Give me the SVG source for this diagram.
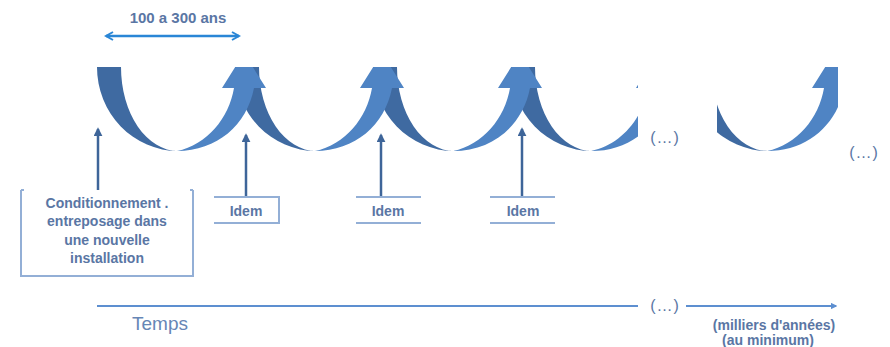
<svg xmlns="http://www.w3.org/2000/svg" width="890" height="347" viewBox="0 0 890 347">
<style>
.t{font-family:"Liberation Sans",Arial,sans-serif;fill:#5a76a4;font-weight:bold;text-anchor:middle}
.dark{fill:#3f6aa1}
.light{fill:#4f84c4}
.box{fill:none;stroke:#93afd6;stroke-width:2}
.up{stroke:#3e6599;stroke-width:2.5;fill:none}
.tl{stroke:#5d8fd0;stroke-width:2.2;fill:none}
.dots{font-weight:normal;letter-spacing:1px}
</style>
<defs>
<marker id="chev" viewBox="0 0 10 10" refX="8" refY="5" markerWidth="4" markerHeight="4" orient="auto-start-reverse" markerUnits="strokeWidth">
<path d="M1,1 L8,5 L1,9" fill="none" stroke="#2a86d6" stroke-width="2"/>
</marker>
<marker id="tri" viewBox="0 0 10 10" refX="8" refY="5" markerWidth="3.6" markerHeight="3.6" orient="auto" markerUnits="strokeWidth">
<path d="M0,0 L10,5 L0,10 Z" fill="#3e6599"/>
</marker>
<marker id="tri2" viewBox="0 0 10 10" refX="8" refY="5" markerWidth="3" markerHeight="3" orient="auto" markerUnits="strokeWidth">
<path d="M0,0 L10,5 L0,10 Z" fill="#5d8fd0"/>
</marker>
<path id="dk" class="dark" d="M0,67 A81,84 0 0 0 81,151 A57,84 0 0 1 24,67 Z"/>
<path id="lt" class="light" d="M80,151 C120,151 150,125 157,88 L169,88 L147,53 L125,88 L137,88 C132,118 110,145 80,151 Z"/>
<clipPath id="c1"><rect x="0" y="67" width="638" height="100"/></clipPath>
<clipPath id="c2"><rect x="717" y="67" width="121" height="100"/></clipPath>
</defs>

<g id="cycles">
<g clip-path="url(#c1)">
<use href="#dk" transform="translate(97,0)"/>
<use href="#dk" transform="translate(235,0)"/>
<use href="#dk" transform="translate(373,0)"/>
<use href="#dk" transform="translate(511,0)"/>
<use href="#lt" transform="translate(97,0)"/>
<use href="#lt" transform="translate(235,0)"/>
<use href="#lt" transform="translate(373,0)"/>
<use href="#lt" transform="translate(511,0)"/>
</g>
<g clip-path="url(#c2)">
<use href="#dk" transform="translate(687,0)"/>
<use href="#lt" transform="translate(687,0)"/>
</g>
</g>

<g id="span">
<line x1="106" y1="36" x2="239" y2="36" stroke="#2a86d6" stroke-width="2.5" marker-start="url(#chev)" marker-end="url(#chev)"/>
<text class="t" x="178" y="23" font-size="15">100 a 300 ans</text>
</g>

<g id="connectors">
<line class="up" x1="98" y1="190" x2="98" y2="129" marker-end="url(#tri)"/>
<line class="up" x1="246" y1="196" x2="246" y2="135" marker-end="url(#tri)"/>
<line class="up" x1="381" y1="196" x2="381" y2="135" marker-end="url(#tri)"/>
<line class="up" x1="522" y1="196" x2="522" y2="129" marker-end="url(#tri)"/>
<line class="tl" x1="97" y1="306" x2="638" y2="306"/>
<line class="tl" x1="686" y1="306" x2="836" y2="306" marker-end="url(#tri2)"/>
</g>

<g id="node-conditionnement">
<path class="box" d="M21,190 V276 H193 V190 M21,190 h3 M193,190 h-3"/>
<text class="t" font-size="14" x="107"><tspan x="107" y="208">Conditionnement .</tspan><tspan x="107" y="226">entreposage dans</tspan><tspan x="107" y="245">une nouvelle</tspan><tspan x="107" y="263">installation</tspan></text>
</g>
<g id="node-idem1">
<path class="box" d="M214,197 H279 V223 H214"/>
<text class="t" font-size="14" x="246" y="216">Idem</text>
</g>
<g id="node-idem2">
<path class="box" d="M356,197 H421 M356,223 H421"/>
<text class="t" font-size="14" x="388" y="216">Idem</text>
</g>
<g id="node-idem3">
<path class="box" d="M490,197 H555 M490,223 H555"/>
<text class="t" font-size="14" x="523" y="216">Idem</text>
</g>

<g id="labels">
<text class="t dots" font-size="16" x="665" y="143">(…)</text>
<text class="t dots" font-size="16" x="864" y="158">(…)</text>
<text class="t dots" font-size="16" x="665" y="311">(…)</text>
<text class="t" font-size="19" style="font-weight:normal;fill:#6686b6" x="160" y="330">Temps</text>
<text class="t" font-size="14" x="774" y="330">(milliers d'années)</text>
<text class="t" font-size="14" x="768" y="345">(au minimum)</text>
</g>
</svg>
